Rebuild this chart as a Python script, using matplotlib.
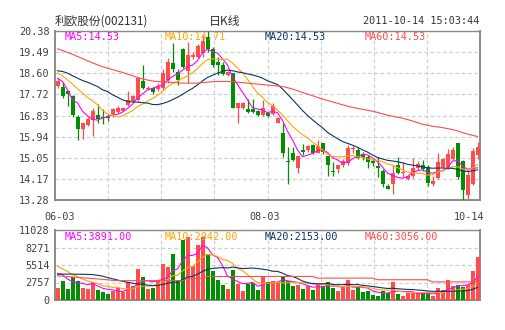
import numpy as np
import pandas as pd
import matplotlib
matplotlib.use("Agg")
import matplotlib.pyplot as plt

plt.rcParams['font.family'] = ['DejaVu Sans Mono', 'Noto Sans CJK SC']

# ---- daily K-line data: 利欧股份 (002131), 2011-06-03 .. 2011-10-14 ----
opens = [18.09, 18.02, 17.84, 17.63, 16.76, 16.28, 16.41, 16.65, 16.86, 16.74,
         16.80, 16.90, 16.99, 17.02, 17.28, 17.46, 17.49, 18.26, 17.94, 17.98,
         17.93, 17.98, 18.32, 19.05, 18.67, 19.61, 18.68, 19.28, 19.28, 19.45,
         20.14, 19.62, 19.06, 18.96, 18.55, 18.61, 17.14, 17.14, 17.11, 17.09,
         17.04, 16.86, 16.92, 16.90, 16.53, 16.08, 14.90, 15.24, 14.61, 15.38,
         15.36, 15.59, 15.27, 15.66, 15.13, 14.47, 14.58, 14.75, 14.82, 15.42,
         15.38, 15.21, 15.10, 14.92, 14.71, 14.51, 13.88, 13.95, 14.74, 14.40,
         14.15, 14.29, 14.61, 14.75, 14.68, 13.95, 14.19, 14.68, 14.68, 14.99,
         15.69, 14.92, 13.49, 13.95, 15.16]
highs = [18.40, 18.22, 17.91, 17.70, 16.86, 16.55, 16.76, 17.14, 17.30, 17.09,
         16.88, 17.15, 17.25, 17.20, 17.84, 17.70, 18.42, 18.96, 18.05, 18.02,
         18.20, 18.80, 19.23, 19.86, 18.77, 19.65, 19.90, 19.50, 19.85, 20.20,
         20.38, 19.72, 19.30, 19.09, 18.70, 18.63, 17.37, 17.40, 17.51, 17.51,
         17.06, 17.49, 16.95, 17.35, 16.76, 16.50, 15.52, 15.50, 15.13, 15.64,
         15.60, 15.64, 15.80, 15.68, 15.13, 14.89, 14.76, 15.00, 15.60, 15.55,
         15.50, 15.30, 15.15, 15.00, 15.10, 14.57, 13.95, 14.75, 15.10, 14.89,
         14.30, 15.03, 14.93, 14.95, 14.75, 14.29, 15.24, 15.03, 15.41, 15.50,
         15.69, 14.96, 14.54, 15.45, 15.72]
lows = [18.00, 17.58, 17.21, 16.76, 15.80, 15.85, 16.37, 15.97, 16.53, 16.48,
        16.60, 16.75, 16.95, 17.00, 17.25, 17.40, 17.45, 17.93, 17.90, 17.75,
        17.85, 17.90, 18.18, 18.67, 18.11, 18.81, 18.20, 19.20, 19.25, 19.30,
        19.50, 18.88, 18.55, 18.53, 18.50, 17.14, 16.53, 17.10, 16.93, 16.95,
        16.83, 16.81, 16.75, 16.85, 16.50, 15.10, 13.95, 14.93, 14.43, 15.17,
        15.30, 15.20, 15.24, 15.22, 14.29, 14.29, 14.40, 14.65, 14.75, 15.24,
        15.00, 14.95, 14.61, 14.70, 14.26, 13.81, 13.73, 13.53, 14.37, 14.26,
        14.10, 14.19, 14.54, 14.50, 13.87, 13.87, 14.15, 14.57, 14.57, 14.95,
        14.18, 13.28, 13.28, 13.91, 14.99]
closes = [18.26, 17.67, 17.74, 16.86, 16.28, 16.50, 16.69, 17.02, 16.69, 16.72,
          16.73, 17.09, 17.16, 17.16, 17.49, 17.63, 18.40, 18.00, 18.00, 17.80,
          18.08, 18.61, 19.09, 18.77, 18.32, 18.88, 19.37, 19.38, 19.73, 19.96,
          19.62, 18.96, 18.96, 18.56, 18.64, 17.14, 17.35, 17.35, 16.97, 16.99,
          16.86, 17.14, 16.79, 17.23, 16.72, 15.24, 14.87, 14.96, 15.13, 15.30,
          15.55, 15.24, 15.55, 15.31, 14.75, 14.45, 14.75, 14.90, 15.47, 15.46,
          15.05, 15.03, 14.89, 14.82, 14.64, 13.95, 13.73, 14.43, 14.40, 14.47,
          14.29, 14.61, 14.79, 14.57, 13.98, 14.09, 14.89, 14.99, 15.21, 15.38,
          14.26, 13.70, 14.33, 15.35, 15.52]
volumes = [1883, 3033, 1726, 3556, 3033, 1883, 1778, 2824, 1621, 1203,
           994, 1360, 1883, 1203, 2824, 2144, 4916, 3556, 1778, 1883,
           3190, 5700, 5125, 7217, 3200, 9466, 9989, 5282, 8682, 9885,
           7217, 4498, 3190, 2301, 1778, 4759, 2563, 1464, 2510, 2667,
           1621, 3713, 2824, 3033, 2824, 3556, 2929, 2144, 2406, 1778,
           2144, 1621, 2510, 2144, 2824, 1883, 1464, 1987, 3190, 1621,
           1987, 1203, 1464, 837, 680, 1360, 1098, 2772, 941, 680,
           1098, 1098, 1098, 1098, 941, 575, 1883, 1621, 3190, 2144,
           2301, 1987, 2301, 4602, 6851]

# moving-average values before each window is full (they depend on earlier sessions)
ma5_head = [18.40, 18.26, 17.91, 17.49]
ma10_head = [18.62, 18.50, 18.33, 18.15, 17.95, 17.78, 17.58, 17.45, 17.28]
ma20_head = [18.71, 18.68, 18.61, 18.50, 18.40, 18.30, 18.23, 18.14, 18.05, 17.91,
             17.84, 17.70, 17.60, 17.49, 17.42, 17.40, 17.39, 17.37, 17.35]
ma60_price = [19.63, 19.56, 19.48, 19.40, 19.31, 19.22, 19.13, 19.04, 18.96, 18.88,
              18.82, 18.76, 18.70, 18.64, 18.57, 18.50, 18.43, 18.37, 18.32, 18.28,
              18.26, 18.25, 18.24, 18.22, 18.20, 18.19, 18.19, 18.19, 18.19, 18.21,
              18.23, 18.25, 18.26, 18.26, 18.26, 18.25, 18.23, 18.21, 18.19, 18.17,
              18.15, 18.13, 18.11, 18.09, 18.07, 18.05, 18.00, 17.94, 17.87, 17.80,
              17.73, 17.66, 17.59, 17.52, 17.46, 17.40, 17.34, 17.28, 17.22, 17.17,
              17.13, 17.09, 17.05, 17.01, 16.96, 16.90, 16.84, 16.80, 16.76, 16.72,
              16.66, 16.60, 16.53, 16.46, 16.42, 16.38, 16.35, 16.32, 16.28, 16.24,
              16.18, 16.11, 16.05, 16.00, 15.95]

vma5_head = [4180, 4000, 3300, 2900]
vma10_head = [5300, 4900, 4500, 4000, 3700, 3300, 3000, 2800, 2600]
vma20_head = [4080, 4080, 4080, 4070, 4060, 4050, 4040, 4000, 3900, 3750,
              3550, 3350, 3150, 2950, 2800, 2650, 2550, 2450, 2350]
vma60 = [3820, 3750, 3690, 3630, 3570, 3500, 3440, 3380, 3320, 3250,
         3190, 3100, 3050, 3050, 3050, 3050, 3050, 3050, 3050, 3050,
         3050, 3050, 3050, 3050, 3050, 3050, 3400, 3400, 3400, 3400,
         3700, 3700, 3700, 3700, 3700, 3700, 3700, 3700, 3700, 3700,
         3710, 3710, 3710, 3710, 3710, 3710, 3710, 3710, 3710, 3710,
         3710, 3710, 3450, 3450, 3450, 3450, 3450, 3450, 3450, 3450,
         3450, 3450, 3450, 3450, 3190, 3190, 3190, 3190, 3190, 3190,
         3190, 3190, 3190, 3190, 3190, 2850, 2850, 2850, 2850, 2850,
         2850, 2850, 2850, 2850, 2850]

price_ticks = [20.38, 19.49, 18.60, 17.72, 16.83, 15.94, 15.05, 14.17, 13.28]
volume_ticks = [11028, 8271, 5514, 2757, 0]
date_labels = ['06-03', '08-03', '10-14']

title = '利欧股份(002131)'
period = '日K线'
stamp = '2011-10-14 15:03:44'
price_ma_text = ['MA5:14.53', 'MA10:14.71', 'MA20:14.53', 'MA60:14.53']
volume_ma_text = ['MA5:3891.00', 'MA10:2942.00', 'MA20:2153.00', 'MA60:3056.00']

UP = '#ff4d4d'
DOWN = '#008f00'
MA_COLORS = ['#ff00ff', '#ffa500', '#0b3568', '#ff4d4d']
FRAME = '#8a8a8a'
GRID = '#d0d0d0'
TEXT = '#404040'


def moving_average(values, window, head):
    out = pd.Series(values, dtype=float).rolling(window).mean().to_numpy()
    out[:len(head)] = head
    return out


o = np.array(opens); h = np.array(highs); l = np.array(lows); c = np.array(closes)
v = np.array(volumes, dtype=float)
n = len(c)
x = np.arange(n)
up = c >= o
colors = np.where(up, UP, DOWN)

price_ma = [moving_average(c, 5, ma5_head), moving_average(c, 10, ma10_head),
            moving_average(c, 20, ma20_head), np.array(ma60_price)]
vol_ma = [moving_average(v, 5, vma5_head), moving_average(v, 10, vma10_head),
          moving_average(v, 20, vma20_head), np.array(vma60, dtype=float)]

W, H = 505, 330
fig = plt.figure(figsize=(W / 100, H / 100), dpi=100)
fig.patch.set_facecolor('white')


def px_axes(left, top, right, bottom):
    return fig.add_axes([left / W, 1 - bottom / H, (right - left) / W, (bottom - top) / H])


ax = px_axes(55, 31, 480, 200)
axv = px_axes(55, 230, 480, 300)

xmin, xmax = -0.5, n - 0.5
for a in (ax, axv):
    a.set_xlim(xmin, xmax)
    for side in ('left', 'bottom', 'right', 'top'):
        a.spines[side].set_color(FRAME)
        a.spines[side].set_linewidth(1.4)
    a.spines['top'].set_linewidth(1.0)
    a.tick_params(length=0, labelsize=7.3, colors=TEXT, pad=4)
    a.set_xticks([xmin + (xmax - xmin) * k / 8 for k in range(1, 8)])
    a.set_xticklabels([])
    a.grid(True, color=GRID, linestyle=(0, (3, 2)), linewidth=0.9)
    a.set_axisbelow(True)

# ---- price panel ----
ax.set_ylim(price_ticks[-1], price_ticks[0])
ax.set_yticks(price_ticks)
ax.set_yticklabels([f'{t:.2f}' for t in price_ticks])

body_bottom = np.minimum(o, c)
body_height = np.maximum(np.abs(c - o), 0.03)
ax.vlines(x, l, h, colors=colors, linewidth=0.9, zorder=3)
ax.bar(x, body_height, bottom=body_bottom, width=0.8, color=colors, linewidth=0, zorder=4)
for ma, col in zip(price_ma, MA_COLORS):
    ax.plot(x, ma, color=col, linewidth=0.8, zorder=5)

# ---- volume panel ----
axv.set_ylim(0, volume_ticks[0])
axv.set_yticks(volume_ticks)
axv.set_yticklabels([str(t) for t in volume_ticks])
axv.bar(x, v, width=0.8, color=colors, linewidth=0, zorder=3)
for ma, col in zip(vol_ma, MA_COLORS):
    axv.plot(x, ma, color=col, linewidth=0.8, zorder=5)

# ---- text ----
def px_text(px, py, s, **kw):
    fig.text(px / W, 1 - py / H, s, **kw)


px_text(55, 21, title, ha='left', va='center', fontsize=8.4, color='#333333',
        family=['Noto Sans CJK SC', 'DejaVu Sans'])
px_text(225, 21, period, ha='center', va='center', fontsize=8.6, color='#333333',
        family=['Noto Sans CJK SC', 'DejaVu Sans'])
px_text(479, 21, stamp, ha='right', va='center', fontsize=7.3, color='#333333')

for i, (s, col) in enumerate(zip(price_ma_text, MA_COLORS)):
    px_text(65 + 100 * i, 36.5, s, ha='left', va='center', fontsize=7.3, color=col, zorder=1)
for i, (s, col) in enumerate(zip(volume_ma_text, MA_COLORS)):
    px_text(65 + 100 * i, 237, s, ha='left', va='center', fontsize=7.3, color=col, zorder=1)

date_px = [59.5, 264.5, 469]
for s, px in zip(date_labels, date_px):
    px_text(px, 216.5, s, ha='center', va='center', fontsize=7.3, color=TEXT)

fig.savefig('out.png', dpi=100, facecolor='white')
